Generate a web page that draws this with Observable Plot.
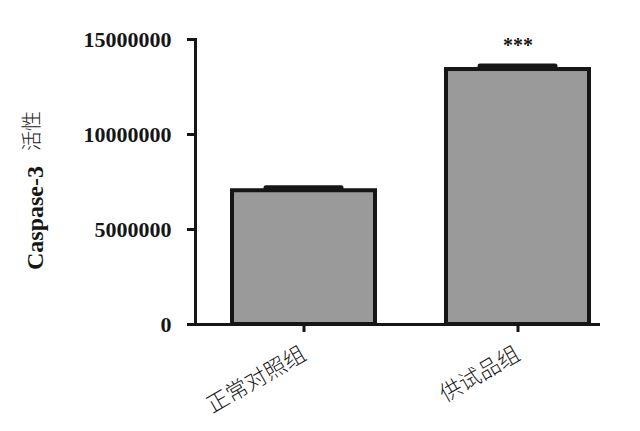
<!DOCTYPE html>
<html><head><meta charset="utf-8">
<script src="https://cdn.jsdelivr.net/npm/d3@7"></script>
<script src="https://cdn.jsdelivr.net/npm/@observablehq/plot@0.6"></script>
<style>body{margin:0;background:#fff}</style>
</head><body><div id="chart"></div>
<script>
const categories = ["正常对照组", "供试品组"];
const means = [7040000, 13420000];
const sems = [160000, 180000];
const yTicks = [0, 5000000, 10000000, 15000000];
const significance = ["", "***"];
const yLabelLatin = "Caspase-3";
const yLabelCJK = "活性";

const data = categories.map((c, i) => ({group: c, mean: means[i], sem: sems[i], sig: significance[i]}));

const serif = "'Liberation Serif','Times New Roman',serif";
const cjk = "'Noto Sans CJK SC',sans-serif";
const ink = "#161616";

const chart = Plot.plot({
  width: 640, height: 431,
  marginLeft: 195, marginRight: 14, marginTop: 39, marginBottom: 107,
  style: {background: "#fff", color: ink},
  x: {domain: categories, paddingInner: 0.332, paddingOuter: 0.173, label: null},
  y: {domain: [0, 15000000], label: null},
  marks: [
    Plot.barY(data, {x: "group", y: "mean", fill: "#9a9a9a", stroke: ink, strokeWidth: 4}),
    Plot.ruleX(data, {x: "group", y1: "mean", y2: d => d.mean + d.sem, stroke: ink, strokeWidth: 4}),
    Plot.tickY(data, {x: "group", y: d => d.mean + d.sem, stroke: ink, strokeWidth: 5, strokeLinecap: "round", insetLeft: 34, insetRight: 34}),
    Plot.text(data, {x: "group", y: d => d.mean + d.sem, text: "sig", dy: -14, fontSize: 20, fontWeight: "bold", fontFamily: serif, lineAnchor: "bottom", fill: ink}),
    Plot.ruleY([0], {stroke: ink, strokeWidth: 3, insetRight: 26}),
    Plot.frame({anchor: "left", stroke: ink, strokeWidth: 3}),
    Plot.axisY({ticks: yTicks, tickFormat: d3.format("d"), tickSize: 8, tickPadding: 16, strokeWidth: 3, fontSize: 22, fontWeight: "bold", fontFamily: serif, label: null}),
    Plot.axisX({tickSize: 8, tickRotate: -30, tickPadding: 20, strokeWidth: 3, fontSize: 22, fontWeight: 300, fontFamily: cjk, fill: "#1a1a1a", label: null}),
    Plot.text([yLabelLatin], {frameAnchor: "left", text: d => d, rotate: -90, textAnchor: "start", dx: -160, dy: 88, fontSize: 24, fontWeight: "bold", fontFamily: serif, fill: ink}),
    Plot.text([yLabelCJK], {frameAnchor: "left", text: d => d, rotate: -90, textAnchor: "end", dx: -163, dy: -71, fontSize: 20, fontWeight: 300, fontFamily: cjk, fill: "#222"})
  ]
});
document.getElementById("chart").appendChild(chart);
</script>
</body></html>
